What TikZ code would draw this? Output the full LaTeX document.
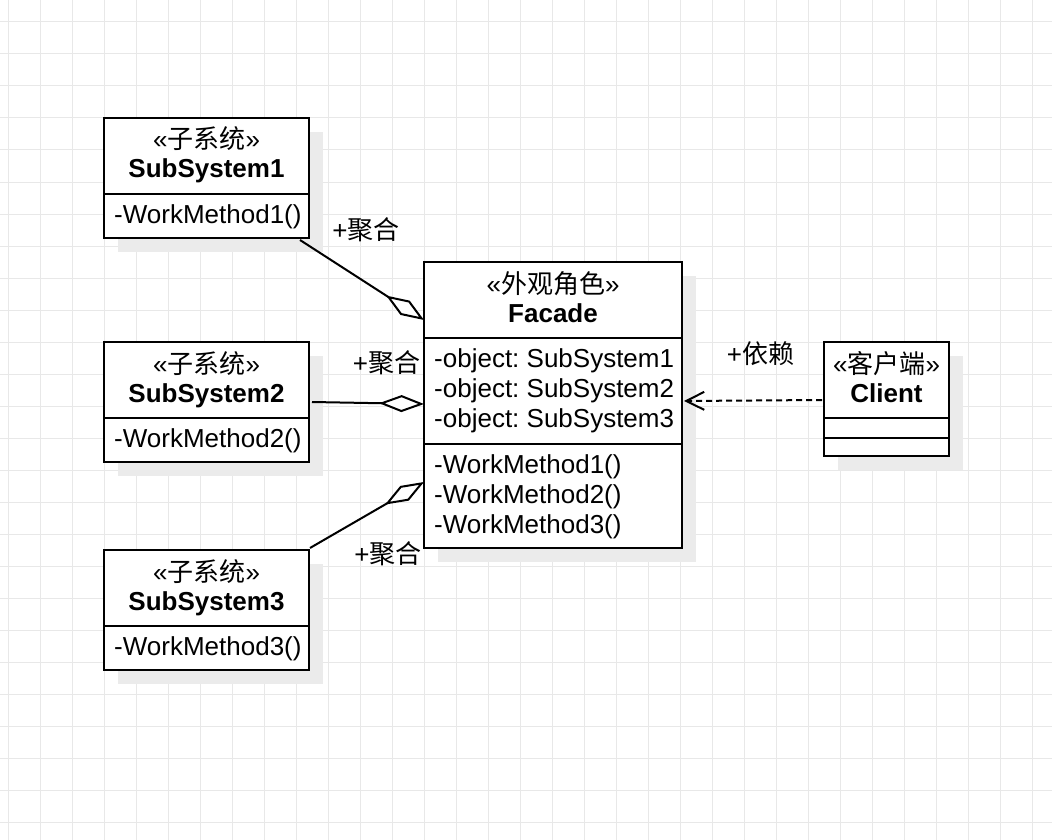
\documentclass[tikz,border=0pt]{standalone}
\usepackage{fontspec}
\setmainfont{Liberation Sans}
\newfontfamily\cjk{Noto Sans CJK SC}
\usetikzlibrary{arrows.meta,shadows}
\newcommand\zh[1]{{\cjk #1}}
\definecolor{gridc}{HTML}{E8E8E8}
\definecolor{shadowc}{HTML}{EBEBEB}
\frenchspacing
\begin{document}
\begin{tikzpicture}[x=1pt,y=-1pt,
  font=\fontsize{26}{30}\selectfont,
  umlbox/.style={draw, line width=2pt, fill=white, anchor=north west, inner sep=0pt, outer sep=0pt,
    drop shadow={shadow xshift=14pt, shadow yshift=-14pt, fill=shadowc, opacity=1}},
  ctxt/.style={inner sep=0pt, anchor=base},
  ltxt/.style={inner sep=0pt, anchor=base west},
  divline/.style={line width=2pt},
  agg/.style={line width=2pt, -{Diamond[open, length=45pt, width=17pt, fill=white]}},
  dep/.style={line width=2pt, dash pattern=on 6pt off 4pt, -{Straight Barb[length=18pt, width=18pt]}},
  lbl/.style={inner sep=0pt, anchor=base}]
\fill[white] (0,0) rectangle (1052,840);
\useasboundingbox (0,0) rectangle (1052,840);
\foreach \x in {8,40,...,1050} \draw[gridc, line width=1pt] (\x,0) -- (\x,840);
\foreach \y in {22,54,...,838} \draw[gridc, line width=1pt] (0,\y) -- (1052,\y);

% SubSystem1
\node[umlbox, minimum width=205pt, minimum height=120pt] (s1) at (104,118) {};
\draw[divline] (104,194) -- (309,194);
\node[ctxt] (s1st) at (206.5,149) {«\zh{子系统}»};
\node[ctxt] (s1n) at (206.5,178) {\bfseries SubSystem1};
\node[ltxt] (s1m) at (114,223) {-WorkMethod1()};

% SubSystem2
\node[umlbox, minimum width=205pt, minimum height=120pt] (s2) at (104,342) {};
\draw[divline] (104,418) -- (309,418);
\node[ctxt] (s2st) at (206.5,373) {«\zh{子系统}»};
\node[ctxt] (s2n) at (206.5,402) {\bfseries SubSystem2};
\node[ltxt] (s2m) at (114,447) {-WorkMethod2()};

% SubSystem3
\node[umlbox, minimum width=205pt, minimum height=120pt] (s3) at (104,550) {};
\draw[divline] (104,626) -- (309,626);
\node[ctxt] (s3st) at (206.5,581) {«\zh{子系统}»};
\node[ctxt] (s3n) at (206.5,610) {\bfseries SubSystem3};
\node[ltxt] (s3m) at (114,655) {-WorkMethod3()};

% Facade
\node[umlbox, minimum width=258pt, minimum height=286pt] (f) at (424,262) {};
\draw[divline] (424,338) -- (682,338);
\draw[divline] (424,444) -- (682,444);
\node[ctxt] (fst) at (553,293) {«\zh{外观角色}»};
\node[ctxt] (fn) at (553,322) {\bfseries Facade};
\node[ltxt] (fa1) at (434,367) {-object: SubSystem1};
\node[ltxt] (fa2) at (434,397) {-object: SubSystem2};
\node[ltxt] (fa3) at (434,427) {-object: SubSystem3};
\node[ltxt] (fm1) at (434,473) {-WorkMethod1()};
\node[ltxt] (fm2) at (434,503) {-WorkMethod2()};
\node[ltxt] (fm3) at (434,533) {-WorkMethod3()};

% Client
\node[umlbox, minimum width=125pt, minimum height=114pt] (c) at (824,342) {};
\draw[divline] (824,418) -- (949,418);
\draw[divline] (824,438) -- (949,438);
\node[ctxt] (cst) at (886.5,373) {«\zh{客户端}»};
\node[ctxt] (cn) at (886.5,402) {\bfseries Client};

% connector end points
\coordinate (a1s) at (300,240);
\coordinate (a1e) at (424,320);
\coordinate (a2s) at (312,402);
\coordinate (a2e) at (424,404);
\coordinate (a3s) at (310,548);
\coordinate (a3e) at (424,482);
\coordinate (ds) at (822,400);
\coordinate (de) at (684,401);

\draw[agg] (a1s) -- (a1e);
\draw[agg] (a2s) -- (a2e);
\draw[agg] (a3s) -- (a3e);
\draw[dep] (ds) -- (de);

\node[lbl] (l1) at (366,239) {+\zh{聚合}};
\node[lbl] (l2) at (386.5,372) {+\zh{聚合}};
\node[lbl] (l3) at (388,563) {+\zh{聚合}};
\node[lbl] (l4) at (760.5,363) {+\zh{依赖}};
\end{tikzpicture}
\end{document}
